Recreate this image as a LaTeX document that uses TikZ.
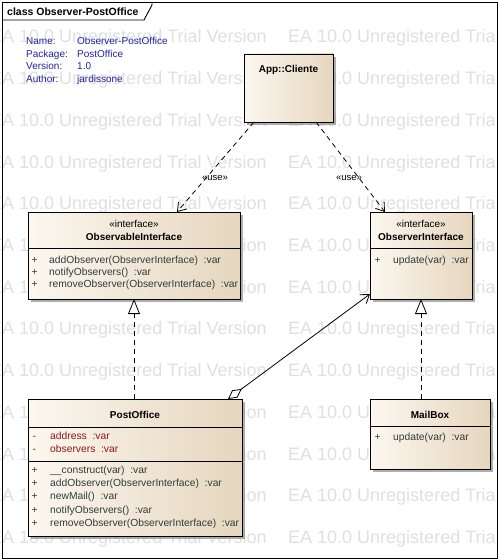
\documentclass[tikz,border=0pt]{standalone}
\usepackage{fontspec}
\setmainfont{Liberation Sans}
\usetikzlibrary{arrows.meta,shadows,calc}
\definecolor{wmgray}{RGB}{224,224,224}
\definecolor{metablue}{RGB}{35,35,160}
\definecolor{optext}{RGB}{45,62,62}
\definecolor{attrred}{RGB}{140,25,25}
\definecolor{boxl}{RGB}{252,247,239}
\definecolor{boxr}{RGB}{230,214,190}
\begin{document}
\begin{tikzpicture}[x=1pt,y=-1pt,
  classbox/.style={draw=black, line width=0.9pt, left color=boxl, right color=boxr,
    anchor=north west, inner sep=0pt, outer sep=0pt,
    drop shadow={shadow xshift=3pt, shadow yshift=-3pt, fill=black!45, opacity=0.7}},
  wmtext/.style={font=\fontsize{18}{18}\selectfont, text=wmgray, anchor=base west, inner sep=0pt},
  txt/.style={font=\fontsize{10.3}{12}\selectfont, inner sep=0pt, anchor=base west},
  ctxt/.style={font=\fontsize{10}{12}\selectfont, inner sep=0pt, anchor=base},
  btxt/.style={font=\fontsize{10}{12}\selectfont\bfseries, inner sep=0pt, anchor=base},
  meta/.style={txt, font=\fontsize{10}{12}\selectfont, text=metablue},
  optx/.style={txt, text=optext},
  attx/.style={txt, text=attrred},
  sep/.style={draw=black, line width=0.8pt},
  conn/.style={draw=black, line width=0.8pt},
  usedash/.style={conn, dash pattern=on 5pt off 4pt},
  usetip/.style={-{Straight Barb[length=8pt,width=11pt,line width=0.8pt]}},
  realtip/.style={-{Triangle[length=15pt,width=12pt,fill=white,line width=0.8pt]}},
  lbl/.style={font=\fontsize{9.5}{11}\selectfont, inner sep=0pt, anchor=base}
]
\useasboundingbox (0,0) rectangle (498,559);
\fill[white] (0,0) rectangle (498,559);

% watermark
\begin{scope}
\clip (0,0) rectangle (494,559);
\foreach \r in {0,...,12}{
  \node[wmtext] (wmA\r) at (-10,{43+41.7*\r}) {EA 10.0 Unregistered Trial Version};
  \node[wmtext] (wmB\r) at (288,{43+41.7*\r}) {EA 10.0 Unregistered Trial Version};
}
\end{scope}

% frame
\draw[line width=0.9pt] (2,2) rectangle (497,558);
\draw[line width=0.9pt] (2,20) -- (144,20) -- (152,5) -- (152,2);
\node[txt, font=\fontsize{10.5}{12}\selectfont\bfseries] (title) at (7,15.5) {class Observer-PostOffice};

% metadata
\node[meta] (mk1) at (26,45) {Name:};
\node[meta] (mv1) at (77,45) {Observer-PostOffice};
\node[meta] (mk2) at (26,57.5) {Package:};
\node[meta] (mv2) at (77,57.5) {PostOffice};
\node[meta] (mk3) at (26,70) {Version:};
\node[meta] (mv3) at (77,70) {1.0};
\node[meta] (mk4) at (26,82.5) {Author:};
\node[meta] (mv4) at (77,82.5) {jardissone};

% boxes
\node[classbox, minimum width=89pt, minimum height=68pt] (cli) at (244,54) {};
\node[classbox, minimum width=212pt, minimum height=87pt] (obs) at (28,212) {};
\node[classbox, minimum width=102pt, minimum height=87pt] (ovr) at (370,212) {};
\node[classbox, minimum width=214pt, minimum height=137pt] (po) at (28,399) {};
\node[classbox, minimum width=120pt, minimum height=70pt] (mb) at (370,399) {};

% App::Cliente
\node[btxt] (cliname) at (288.5,72.5) {App::Cliente};

% ObservableInterface
\node[ctxt] (obsst) at (134,227.5) {«interface»};
\node[btxt] (obsname) at (134,240.5) {ObservableInterface};
\draw[sep] ([yshift=-36pt]obs.north west) -- ([yshift=-36pt]obs.north east);
\node[optx] (obsp1) at (31.5,263.5) {+};
\node[optx] (obso1) at (49,263.5) {addObserver(ObserverInterface)~~:var};
\node[optx] (obsp2) at (31.5,275.5) {+};
\node[optx] (obso2) at (49,275.5) {notifyObservers()~~:var};
\node[optx] (obsp3) at (31.5,287.5) {+};
\node[optx] (obso3) at (49,287.5) {removeObserver(ObserverInterface)~~:var};

% ObserverInterface
\node[ctxt] (ovrst) at (421,227.5) {«interface»};
\node[btxt] (ovrname) at (421,240.5) {ObserverInterface};
\draw[sep] ([yshift=-36pt]ovr.north west) -- ([yshift=-36pt]ovr.north east);
\node[optx] (ovrp1) at (374.5,263) {+};
\node[optx] (ovro1) at (393,263) {update(var)~~:var};

% PostOffice
\node[btxt] (poname) at (135,418.5) {PostOffice};
\draw[sep] ([yshift=-28pt]po.north west) -- ([yshift=-28pt]po.north east);
\node[attx] (poa1m) at (32.5,439.5) {-};
\node[attx] (poa1) at (50,439.5) {address~~:var};
\node[attx] (poa2m) at (32.5,452.5) {-};
\node[attx] (poa2) at (50,452.5) {observers~~:var};
\draw[sep] ([yshift=-62pt]po.north west) -- ([yshift=-62pt]po.north east);
\node[optx] (pop1) at (31.5,473.5) {+};
\node[optx] (poo1) at (50,473.5) {\_\_construct(var)~~:var};
\node[optx] (pop2) at (31.5,486.7) {+};
\node[optx] (poo2) at (50,486.7) {addObserver(ObserverInterface)~~:var};
\node[optx] (pop3) at (31.5,499.9) {+};
\node[optx] (poo3) at (50,499.9) {newMail()~~:var};
\node[optx] (pop4) at (31.5,513.1) {+};
\node[optx] (poo4) at (50,513.1) {notifyObservers()~~:var};
\node[optx] (pop5) at (31.5,526.3) {+};
\node[optx] (poo5) at (50,526.3) {removeObserver(ObserverInterface)~~:var};

% MailBox
\node[btxt] (mbname) at (430,418) {MailBox};
\draw[sep] ([yshift=-27pt]mb.north west) -- ([yshift=-27pt]mb.north east);
\node[optx] (mbp1) at (374.5,440) {+};
\node[optx] (mbo1) at (393,440) {update(var)~~:var};

% connectors
\draw[usedash, usetip] ([xshift=10pt]cli.south west) -- ([xshift=149pt]obs.north west);
\draw[usedash, usetip] ([xshift=-17pt]cli.south east) -- ([xshift=15pt]ovr.north west);
\node[lbl] (use1) at (215,180.5) {«use»};
\node[lbl] (use2) at (349,180.5) {«use»};

\draw[usedash, realtip] ([xshift=106pt]po.north west) -- ([xshift=106pt]obs.south west);
\draw[usedash, realtip] ([xshift=51pt]mb.north west) -- (ovr.south);

\draw[conn, {Diamond[length=17pt,width=9pt,fill=white,line width=0.8pt]}-{Straight Barb[length=8pt,width=11pt,line width=0.8pt]}]
  ([xshift=200pt]po.north west) -- ([yshift=5pt]ovr.south west);
\end{tikzpicture}
\end{document}
